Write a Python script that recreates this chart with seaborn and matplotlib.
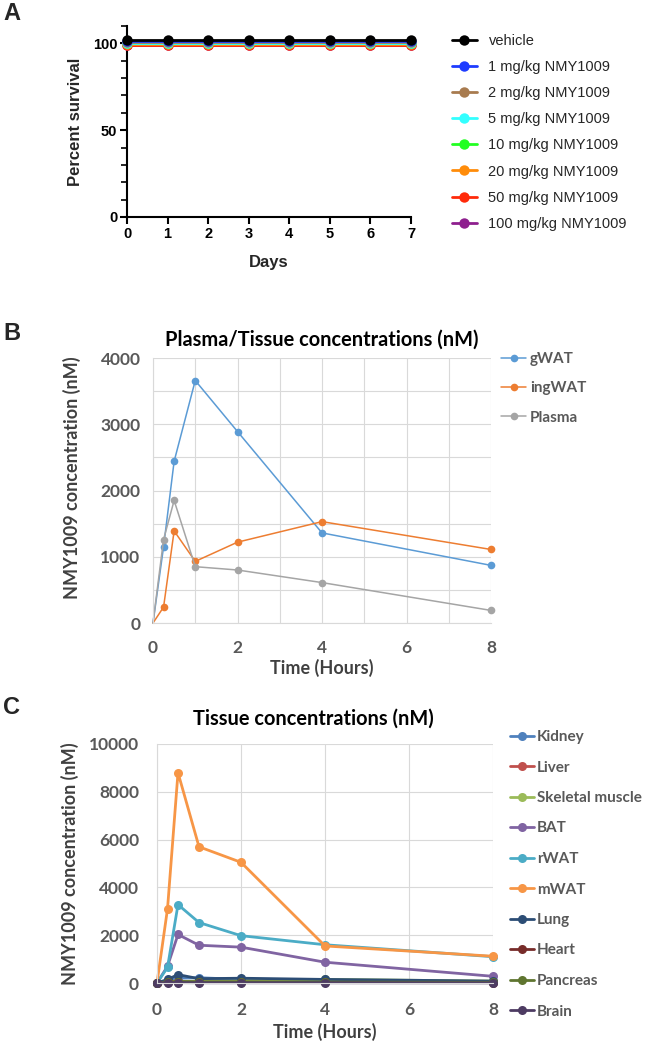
import matplotlib
matplotlib.use("Agg")
import matplotlib.pyplot as plt
from matplotlib.transforms import offset_copy
from matplotlib.ticker import MultipleLocator
import seaborn as sns

sns.set_theme(style="white")
plt.rcParams['font.family'] = ['Lato', 'DejaVu Sans']

# ---------------- data ----------------
# Panel A: survival
days = [0, 1, 2, 3, 4, 5, 6, 7]
groups_a = ["vehicle", "1 mg/kg NMY1009", "2 mg/kg NMY1009", "5 mg/kg NMY1009",
            "10 mg/kg NMY1009", "20 mg/kg NMY1009", "50 mg/kg NMY1009", "100 mg/kg NMY1009"]
surv_vehicle = [100, 100, 100, 100, 100, 100, 100, 100]
surv_1 = [100, 100, 100, 100, 100, 100, 100, 100]
surv_2 = [100, 100, 100, 100, 100, 100, 100, 100]
surv_5 = [100, 100, 100, 100, 100, 100, 100, 100]
surv_10 = [100, 100, 100, 100, 100, 100, 100, 100]
surv_20 = [100, 100, 100, 100, 100, 100, 100, 100]
surv_50 = [100, 100, 100, 100, 100, 100, 100, 100]
surv_100 = [100, 100, 100, 100, 100, 100, 100, 100]
surv_a = [surv_vehicle, surv_1, surv_2, surv_5, surv_10, surv_20, surv_50, surv_100]
colors_a = ["#000000", "#1E3CFF", "#A87B4F", "#33FFFF", "#22FF22", "#FF8C0A", "#FF2A0A", "#8E1F8E"]

# Panel B: plasma/tissue
time_h = [0, 0.25, 0.5, 1, 2, 4, 8]
gWAT = [0, 1150, 2440, 3660, 2890, 1360, 870]
ingWAT = [0, 240, 1390, 930, 1220, 1530, 1110]
plasma = [0, 1260, 1850, 850, 800, 610, 190]
names_b = ["gWAT", "ingWAT", "Plasma"]
vals_b = [gWAT, ingWAT, plasma]
colors_b = ["#5B9BD5", "#ED7D31", "#A5A5A5"]

# Panel C: tissues
kidney = [0, 100, 200, 220, 150, 120, 60]
liver = [0, 40, 70, 60, 60, 50, 30]
skeletal = [0, 40, 60, 80, 90, 150, 80]
bat = [0, 700, 2030, 1580, 1500, 870, 280]
rwat = [0, 650, 3280, 2530, 1980, 1600, 1100]
mwat = [0, 3100, 8800, 5700, 5050, 1550, 1120]
lung = [0, 150, 350, 180, 200, 150, 80]
heart = [0, 30, 40, 30, 30, 25, 20]
pancreas = [0, 50, 60, 50, 50, 40, 30]
brain = [0, 10, 15, 10, 10, 10, 5]
names_c = ["Kidney", "Liver", "Skeletal muscle", "BAT", "rWAT", "mWAT",
           "Lung", "Heart", "Pancreas", "Brain"]
vals_c = [kidney, liver, skeletal, bat, rwat, mwat, lung, heart, pancreas, brain]
colors_c = ["#4F81BD", "#C0504D", "#9BBB59", "#8064A2", "#4BACC6", "#F79646",
            "#2C4D75", "#772C2A", "#5F7530", "#4D3B62"]

W, H = 649, 1046
fig = plt.figure(figsize=(W / 100, H / 100), dpi=100)

def fx(px):
    return px / W

def fy(py):
    return 1 - py / H

ARIAL = ['Liberation Sans', 'DejaVu Sans']
TICKC = '#595959'
LABC = '#404040'

# ---------------- Panel A ----------------
axA = fig.add_axes([fx(127), fy(217), fx(411) - fx(127), fy(26) - fy(217)])
offsets = [2.2, 1.5, 1.0, 0.5, 0.0, -0.5, -1.0, -1.5]
handles_a = {}
for i in reversed(range(len(groups_a))):
    sns.lineplot(x=days, y=surv_a[i], ax=axA, color=colors_a[i], marker='o',
                 markersize=7.5, markeredgewidth=0, linewidth=2.0, label=groups_a[i],
                 clip_on=False, zorder=10 + (len(groups_a) - i))
    ln = axA.lines[-1]
    ln.set_transform(offset_copy(axA.transData, fig=fig, x=0, y=offsets[i], units='points'))
    handles_a[groups_a[i]] = ln
axA.set_xlim(0, 7)
axA.set_ylim(0, 110)
axA.set_yticks([0, 50, 100])
axA.yaxis.set_minor_locator(MultipleLocator(10))
axA.set_xticks(days)
for s in ['top', 'right']:
    axA.spines[s].set_visible(False)
for s in ['left', 'bottom']:
    axA.spines[s].set_color('black')
    axA.spines[s].set_linewidth(1.5)
axA.tick_params(axis='both', which='major', direction='out', length=5, width=1.5,
                colors='black', labelsize=10.5, pad=2, bottom=True, left=True)
axA.tick_params(axis='y', which='minor', direction='out', length=4, width=1.2,
                colors='black', left=True)
for lab in axA.get_xticklabels() + axA.get_yticklabels():
    lab.set_fontweight('bold')
    lab.set_family(ARIAL)
axA.set_xlabel('Days', fontsize=12, fontweight='bold', family=ARIAL, labelpad=10)
axA.set_ylabel('Percent survival', fontsize=12, fontweight='bold', family=ARIAL, labelpad=7)
axA.legend([handles_a[g] for g in groups_a], groups_a, loc='upper left',
           bbox_to_anchor=(fx(452), fy(34)), bbox_transform=fig.transFigure,
           frameon=False, borderpad=0, borderaxespad=0, handlelength=1.7,
           handletextpad=0.8, labelspacing=0.83,
           prop={'family': ARIAL, 'size': 10.5})

# ---------------- Panel B ----------------
axB = fig.add_axes([fx(153), fy(623), fx(491) - fx(153), fy(358) - fy(623)])
for name, vals, c in zip(names_b, vals_b, colors_b):
    sns.lineplot(x=time_h, y=vals, ax=axB, color=c, marker='o', markersize=5.5,
                 markeredgewidth=0, linewidth=1.1, label=name, clip_on=False,
                 markevery=list(range(1, len(time_h))))
axB.set_xlim(0, 8)
axB.set_ylim(0, 4000)
axB.set_xticks([0, 2, 4, 6, 8])
axB.set_yticks([0, 1000, 2000, 3000, 4000])
axB.xaxis.set_minor_locator(MultipleLocator(1))
axB.yaxis.set_minor_locator(MultipleLocator(500))
axB.grid(True, which='both', color='#D9D9D9', linewidth=0.8)
axB.set_axisbelow(True)
for s in ['top', 'right']:
    axB.spines[s].set_visible(False)
for s in ['left', 'bottom']:
    axB.spines[s].set_color('#D9D9D9')
    axB.spines[s].set_linewidth(0.8)
axB.tick_params(axis='both', which='both', length=0, labelsize=12.5, colors=TICKC)
axB.tick_params(axis='x', pad=12)
axB.tick_params(axis='y', pad=9)
for lab in axB.get_xticklabels() + axB.get_yticklabels():
    lab.set_fontweight('bold')
axB.set_title('Plasma/Tissue concentrations (nM)', fontsize=14.4, fontweight='bold',
              color='black', pad=9)
axB.set_xlabel('Time (Hours)', fontsize=13, fontweight='bold', color=LABC, labelpad=2)
axB.set_ylabel('NMY1009 concentration (nM)', fontsize=13, fontweight='bold', color=LABC)
axB.yaxis.set_label_coords((81 - 153) / 338, (623 - 478) / 265)
hB, lB = axB.get_legend_handles_labels()
axB.legend(hB, lB, loc='upper left', bbox_to_anchor=(fx(501), fy(352)),
           bbox_transform=fig.transFigure, frameon=False, borderpad=0, borderaxespad=0,
           handlelength=1.65, handletextpad=0.25, labelspacing=1.0,
           prop={'size': 11, 'weight': 'bold'}, labelcolor=TICKC)

# ---------------- Panel C ----------------
axC = fig.add_axes([fx(157), fy(983), fx(493) - fx(157), fy(744) - fy(983)])
for name, vals, c in zip(names_c, vals_c, colors_c):
    sns.lineplot(x=time_h, y=vals, ax=axC, color=c, marker='o', markersize=6.5,
                 markeredgewidth=0, linewidth=2.0, label=name, clip_on=False)
axC.set_xlim(0, 8)
axC.set_ylim(0, 10000)
axC.set_xticks([0, 2, 4, 6, 8])
axC.set_yticks([0, 2000, 4000, 6000, 8000, 10000])
axC.grid(True, which='major', color='#D9D9D9', linewidth=0.8)
axC.set_axisbelow(True)
for s in ['top', 'right']:
    axC.spines[s].set_visible(False)
for s in ['left', 'bottom']:
    axC.spines[s].set_color('#D9D9D9')
    axC.spines[s].set_linewidth(0.8)
axC.tick_params(axis='both', which='both', length=0, labelsize=12.5, colors=TICKC)
axC.tick_params(axis='x', pad=13.5)
axC.tick_params(axis='y', pad=13)
for lab in axC.get_xticklabels() + axC.get_yticklabels():
    lab.set_fontweight('bold')
axC.set_title('Tissue concentrations (nM)', fontsize=14.4, fontweight='bold',
              color='black', pad=14, x=(313 - 157) / 336)
axC.set_xlabel('Time (Hours)', fontsize=13, fontweight='bold', color=LABC, labelpad=3.5)
axC.set_ylabel('NMY1009 concentration (nM)', fontsize=13, fontweight='bold', color=LABC)
axC.yaxis.set_label_coords((79 - 157) / 336, 0.5)
hC, lC = axC.get_legend_handles_labels()
axC.legend(hC, lC, loc='upper left', bbox_to_anchor=(fx(510), fy(730)),
           bbox_transform=fig.transFigure, frameon=False, borderpad=0, borderaxespad=0,
           handlelength=1.6, handletextpad=0.15, labelspacing=1.08,
           prop={'size': 11, 'weight': 'bold'}, labelcolor=TICKC)

# ---------------- Panel letters ----------------
fig.text(fx(3), fy(14), 'A', fontsize=17, fontweight='bold', family=ARIAL, va='center', ha='left')
fig.text(fx(3), fy(334), 'B', fontsize=17, fontweight='bold', family=ARIAL, va='center', ha='left')
fig.text(fx(3), fy(708), 'C', fontsize=17, fontweight='bold', family=ARIAL, va='center', ha='left')

fig.savefig('out.png', dpi=100)
